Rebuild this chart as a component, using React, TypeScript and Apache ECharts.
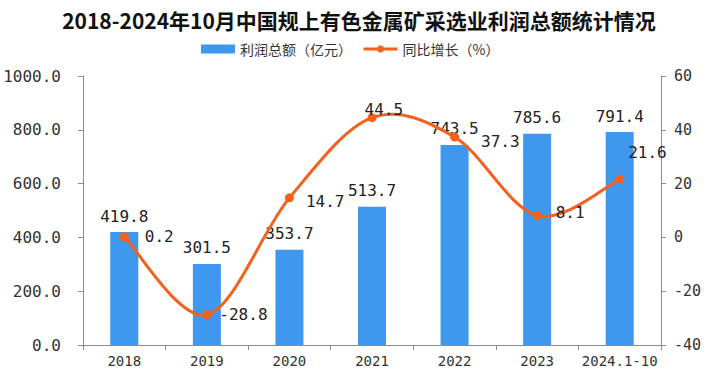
import React, { useEffect, useRef } from "react";
import * as echarts from "echarts";

const categories = ["2018", "2019", "2020", "2021", "2022", "2023", "2024.1-10"];
const profitValues = [419.8, 301.5, 353.7, 513.7, 743.5, 785.6, 791.4];
const growthValues = [0.2, -28.8, 14.7, 44.5, 37.3, 8.1, 21.6];
const titleText = "2018-2024年10月中国规上有色金属矿采选业利润总额统计情况";
const barName = "利润总额（亿元）";
const lineName = "同比增长（%）";

const monoFont = "'DejaVu Sans Mono', 'Noto Sans CJK SC', monospace";
const ORANGE = "#f5611d";
const BLUE = "#3d98ee";

// per-point label shifts for the growth labels
const growthLabelShifts: [number, number][] = [
  [8, 0],
  [0, 0],
  [4, 4],
  [-20, -8],
  [14, 4],
  [6, -3],
  [-4, -27],
];

export default function App() {
  const ref = useRef<HTMLDivElement>(null);
  useEffect(() => {
    if (!ref.current) return;
    const chart = echarts.init(ref.current, null, { renderer: "svg" });
    chart.setOption({
      animation: false,
      backgroundColor: "#ffffff",
      title: {
        text: titleText,
        left: "center",
        top: 4,
        textStyle: {
          fontSize: 21,
          fontWeight: "bold",
          color: "#111",
          fontFamily: "'Noto Sans CJK SC', sans-serif",
        },
      },
      legend: {
        top: 37,
        left: 196,
        itemWidth: 34,
        itemHeight: 9,
        itemGap: 10,
        textStyle: { fontSize: 14, color: "#333", fontFamily: "'Noto Sans CJK SC', sans-serif" },
        data: [
          { name: barName, icon: "rect" },
          {
            name: lineName,
            itemStyle: { color: ORANGE },
            lineStyle: { color: ORANGE, width: 3, opacity: 1 },
          },
        ],
      },
      grid: { left: 83, right: 57, top: 76, bottom: 33 },
      xAxis: {
        type: "category",
        data: categories,
        axisLine: { lineStyle: { color: "#8c8c8c" } },
        axisTick: { show: true, alignWithLabel: false, lineStyle: { color: "#8c8c8c" } },
        axisLabel: { color: "#333", fontSize: 14, fontFamily: monoFont, margin: 9, interval: 0 },
      },
      yAxis: [
        {
          type: "value",
          min: 0,
          max: 1000,
          interval: 200,
          axisLine: { show: true, lineStyle: { color: "#8c8c8c" } },
          axisTick: { show: true, lineStyle: { color: "#8c8c8c" } },
          splitLine: { show: false },
          axisLabel: {
            color: "#333",
            fontSize: 16,
            fontFamily: monoFont,
            margin: 22,
            formatter: (v: number) => v.toFixed(1),
          },
        },
        {
          type: "value",
          min: -40,
          max: 60,
          interval: 20,
          position: "right",
          axisLine: { show: true, lineStyle: { color: "#8c8c8c" } },
          axisTick: { show: true, lineStyle: { color: "#8c8c8c" } },
          splitLine: { show: false },
          axisLabel: { color: "#333", fontSize: 15, fontFamily: monoFont, margin: 13 },
        },
      ],
      series: [
        {
          name: barName,
          type: "bar",
          data: profitValues,
          barWidth: 28,
          itemStyle: { color: BLUE },
          label: {
            show: true,
            position: "top",
            distance: 8,
            color: "#222",
            fontSize: 16,
            fontFamily: monoFont,
            formatter: (p: any) => p.value.toFixed(1),
          },
        },
        {
          name: "curve",
          type: "custom",
          yAxisIndex: 1,
          silent: true,
          z: 3,
          data: growthValues.map((v, i) => [i, v]),
          encode: { x: 0, y: 1 },
          renderItem: (params: any, api: any) => {
            if (params.dataIndex !== 0) return { type: "group", children: [] };
            const pts = growthValues.map((v, i) => api.coord([i, v]));
            const children: any[] = [];
            const n = pts.length;
            for (let i = 0; i < n - 1; i++) {
              const p0 = pts[Math.max(0, i - 1)];
              const p1 = pts[i];
              const p2 = pts[i + 1];
              const p3 = pts[Math.min(n - 1, i + 2)];
              children.push({
                type: "bezierCurve",
                shape: {
                  x1: p1[0],
                  y1: p1[1],
                  cpx1: p1[0] + (p2[0] - p0[0]) / 6,
                  cpy1: p1[1] + (p2[1] - p0[1]) / 6,
                  cpx2: p2[0] - (p3[0] - p1[0]) / 6,
                  cpy2: p2[1] - (p3[1] - p1[1]) / 6,
                  x2: p2[0],
                  y2: p2[1],
                },
                style: { stroke: ORANGE, lineWidth: 3, fill: null },
              });
            }
            return { type: "group", children };
          },
        },
        {
          name: lineName,
          type: "line",
          yAxisIndex: 1,
          z: 4,
          data: growthValues,
          symbol: "circle",
          symbolSize: 9,
          lineStyle: { color: ORANGE, width: 3, opacity: 0 },
          itemStyle: { color: ORANGE },
          label: {
            show: true,
            position: "right",
            distance: 8,
            color: "#222",
            fontSize: 16,
            fontFamily: monoFont,
          },
          labelLayout: (params: any) => {
            const s = growthLabelShifts[params.dataIndex] || [0, 0];
            return { dx: s[0], dy: s[1], hideOverlap: false };
          },
        },
      ],
    });
    return () => chart.dispose();
  }, []);
  return <div ref={ref} style={{ width: 718, height: 378, position: "absolute", left: 0, top: 0 }} />;
}
